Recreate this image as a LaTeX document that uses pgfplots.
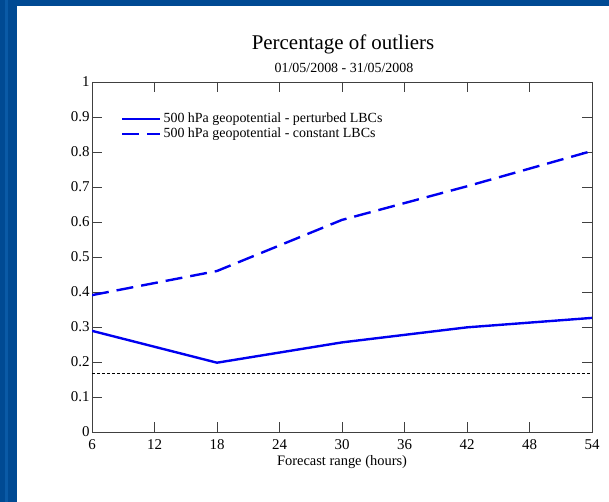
\documentclass[border=0pt]{standalone}
\usepackage{pgfplots}
\pgfplotsset{compat=1.18}
\usepackage{fontspec}
\setmainfont{Liberation Serif}
\definecolor{bgblue}{HTML}{004A93}
\definecolor{bgstripe}{HTML}{0A5AA6}
\definecolor{lineblue}{HTML}{0000F0}
\definecolor{axgray}{HTML}{404040}
\begin{document}
\begin{tikzpicture}[x=1bp,y=1bp]
\fill[bgblue] (0,0) rectangle (609,502);
\fill[bgstripe] (5,0) rectangle (8,502);
\fill[white] (17,0) rectangle (609,496);
\node[font=\fontsize{21}{21}\selectfont] at (343,458) {Percentage of outliers};
\node[font=\fontsize{14}{14}\selectfont] at (344,434) {01/05/2008 - 31/05/2008};
\begin{axis}[
  at={(92bp,70bp)}, anchor=south west,
  scale only axis, width=500bp, height=350bp,
  xmin=6, xmax=54, ymin=0, ymax=1,
  xtick={6,12,18,24,30,36,42,48,54},
  ytick={0,0.1,0.2,0.3,0.4,0.5,0.6,0.7,0.8,0.9,1},
  yticklabels={0,0.1,0.2,0.3,0.4,0.5,0.6,0.7,0.8,0.9,1},
  tick align=inside, major tick length=10bp,
  axis line style={axgray, line width=0.8pt},
  every tick/.style={axgray, line width=0.8pt},
  /pgf/number format/assume math mode=true,
  tick label style={font=\fontsize{15}{15}\selectfont},
  xticklabel style={yshift=-4bp},
  yticklabel style={xshift=1bp},
  xlabel={Forecast range (hours)},
  xlabel style={font=\fontsize{14.5}{14.5}\selectfont, yshift=1bp},
  legend style={at={(0.052,0.923)}, anchor=north west, draw=none, fill=none,
    font=\fontsize{14}{14}\selectfont, row sep=0bp},
  legend cell align=left,
  legend image code/.code={\draw[#1] (0bp,0bp) -- (32bp,0bp); \path (0bp,0bp) -- (38bp,0bp);},
]
\addplot[lineblue, line width=2.4pt] coordinates {(6,0.289) (18,0.198) (30,0.256) (42,0.299) (54,0.326)};
\addlegendentry{500 hPa geopotential - perturbed LBCs}
\addplot[lineblue, line width=2.4pt, dash pattern=on 17bp off 8bp] coordinates {(6,0.391) (18,0.46) (30,0.606) (42,0.702) (54,0.803)};
\addlegendentry{500 hPa geopotential - constant LBCs}
\addplot[black, line width=0.6pt, dash pattern=on 3bp off 2bp, forget plot] coordinates {(6,0.1667) (54,0.1667)};
\end{axis}
\end{tikzpicture}
\end{document}
